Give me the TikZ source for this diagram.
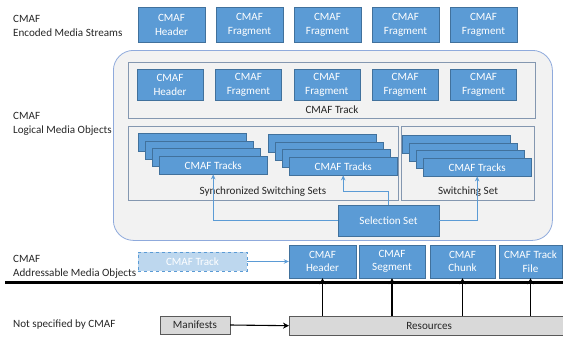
\documentclass[tikz,border=0pt]{standalone}
\usepackage{fontspec}
\setmainfont{Carlito}
\usetikzlibrary{positioning,calc,arrows.meta}
\definecolor{cmafblue}{HTML}{5B9BD5}
\definecolor{cmafedge}{HTML}{41719C}
\definecolor{paleblue}{HTML}{BDD7EE}
\definecolor{panel}{HTML}{F2F2F2}
\definecolor{panelline}{HTML}{8FAADC}
\definecolor{frameline}{HTML}{8497B0}
\definecolor{greybox}{HTML}{D9D9D9}
\definecolor{txtcol}{HTML}{262626}

\begin{document}
\begin{tikzpicture}[x=1pt,y=-1pt,
  font=\fontsize{11.1}{13.5}\selectfont,
  blk/.style={fill=cmafblue,draw=cmafedge,text=white,align=center,inner sep=0pt},
  grp/.style={draw=frameline,line width=0.6pt,inner sep=0pt,anchor=north west},
  side/.style={anchor=west,align=left,inner sep=0pt,text=txtcol,font=\fontsize{11.1}{14}\selectfont},
  bluearr/.style={draw=cmafblue,line width=0.8pt,-{Stealth[length=5pt,width=4.5pt]}},
  blackarr/.style={draw=black,line width=1.1pt,-{Stealth[length=6pt,width=6pt]}}]
  \useasboundingbox (0,0) rectangle (563,338);

  % row labels
  \node[side] (lenc) at (13,26) {CMAF\\Encoded Media Streams};
  \node[side] (llog) at (13,123.5) {CMAF\\Logical Media Objects};
  \node[side] (ladr) at (13,266.5) {CMAF\\Addressable Media Objects};
  \node[side] (lnot) at (13,325) {Not specified by CMAF};

  % encoded streams
  \foreach \i/\txt in {0/Header,1/Fragment,2/Fragment,3/Fragment,4/Fragment}
    \node[blk,minimum width=67pt,minimum height=35pt] (es\i) at (171.5+78*\i,25) {CMAF\\\txt};

  % logical objects panel
  \node[fill=panel,draw=panelline,line width=0.8pt,rounded corners=20pt,
    minimum width=439pt,minimum height=190pt,anchor=north west] (lmo) at (113,50) {};
  \node[grp,minimum width=407pt,minimum height=56pt] (ctf) at (128,62) {};
  \foreach \i/\txt in {0/Header,1/Fragment,2/Fragment,3/Fragment,4/Fragment}
    \node[blk,minimum width=66pt,minimum height=31pt] (lt\i) at (170+78.4*\i,85) {CMAF\\\txt};
  \node[text=txtcol] (ctl) at (332,110) {CMAF Track};

  \node[grp,minimum width=270pt,minimum height=74pt] (sss) at (128,126) {};
  \node[grp,minimum width=133pt,minimum height=74pt] (sws) at (401,126) {};

  % stacked track sets
  \foreach \g/\x/\y in {1/159/156,2/289/157,3/423/158} {
    \foreach \k in {3,2,1}
      \node[blk,minimum width=108pt,minimum height=18pt,anchor=north west] at (\x-7*\k,\y-7.7*\k) {};
    \node[blk,minimum width=108pt,minimum height=18pt,anchor=north west] (tr\g) at (\x,\y) {CMAF Tracks};
  }
  \node[text=txtcol] (sssl) at (263,192) {Synchronized Switching Sets};
  \node[text=txtcol] (swsl) at (468,192) {Switching Set};

  \node[blk,minimum width=101pt,minimum height=31pt] (sel) at (388.5,220.5) {Selection Set};
  \draw[bluearr] (sel.west) -| (tr1.south);
  \draw[bluearr] (sel.north) -- ++(0,-13) -| (tr2.south);
  \draw[bluearr] (sel.east) -| (tr3.south);

  % addressable objects
  \node[fill=paleblue,draw=cmafblue,dashed,text=white,minimum width=109pt,minimum height=19pt,inner sep=0pt] (ctk) at (192.5,261.5) {CMAF Track};
  \node[blk,minimum width=67pt,minimum height=33pt] (ah) at (322.5,261.5) {CMAF\\Header};
  \node[blk,minimum width=66pt,minimum height=33pt] (as) at (392,261.5) {CMAF\\Segment};
  \node[blk,minimum width=65pt,minimum height=33pt] (ac) at (462.5,261.5) {CMAF\\Chunk};
  \node[blk,minimum width=63pt,minimum height=33pt] (af) at (530.5,261.5) {CMAF Track\\File};
  \draw[bluearr] (ctk.east) -- (ah.west);

  \draw[line width=3.5pt] (5,282.5) -- (566,282.5);

  % outside the spec
  \node[fill=greybox,draw=gray!70!black,minimum width=280pt,minimum height=19pt,inner sep=0pt,anchor=north west,text=txtcol] (res) at (289,316) {Resources};
  \node[fill=greybox,draw=gray!70!black,minimum width=70pt,minimum height=18pt,inner sep=0pt,text=txtcol] (man) at (195,325) {Manifests};
  \draw[blackarr] (man.east) -- (res.west);
  \foreach \b in {ah,as,ac,af}
    \draw[blackarr] (\b.south |- res.north) -- (\b.south);
\end{tikzpicture}
\end{document}
